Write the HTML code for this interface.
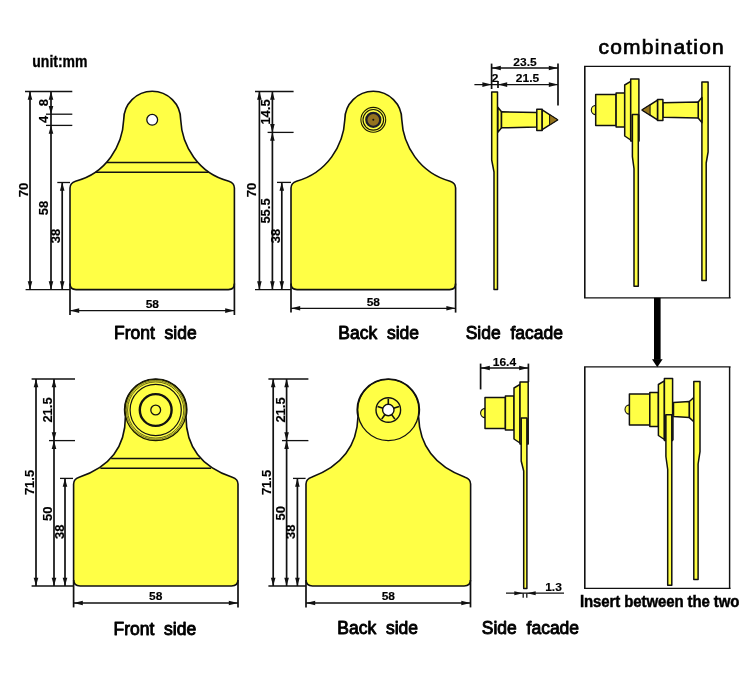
<!DOCTYPE html>
<html><head><meta charset="utf-8"><title>Ear tag dimensions</title>
<style>
html,body{margin:0;padding:0;background:#fff;}
body{width:750px;height:700px;overflow:hidden;font-family:"Liberation Sans",sans-serif;}
svg{display:block;will-change:transform;}
text{font-family:"Liberation Sans",sans-serif;fill:#000;white-space:pre;}
.d{font-weight:bold;stroke:#000;stroke-width:0.15px;}
.l{font-weight:normal;stroke:#000;stroke-width:0.9px;stroke-linejoin:round;}
.b{font-weight:bold;stroke:#000;stroke-width:0.3px;}
.b2{font-weight:bold;letter-spacing:-0.1px;stroke:#000;stroke-width:0.45px;}
.c{font-weight:normal;stroke:#000;stroke-width:0.7px;letter-spacing:1.2px;}
</style></head><body>
<svg width="750" height="700" viewBox="0 0 750 700">
<rect width="750" height="700" fill="#fff"/>
<path d="M76,289.6 Q70,289.6 70,283.6 L70,188.0 Q70,183.0 75.5,181.2 C106.2,173.4 122.6,145.6 123.69999999999999,119.8 A28.5,28.5 0 1 1 180.7,119.8 C181.8,145.6 198.2,173.4 228.9,181.2 Q234.4,183.0 234.4,188.0 L234.4,283.6 Q234.4,289.6 228.4,289.6 Z" fill="#ffff45" stroke="#111" stroke-width="1.6"/>
<circle cx="152.2" cy="119.8" r="5.4" fill="#fff" stroke="#111" stroke-width="1.3"/>
<line x1="106.8" y1="162.45" x2="197.6" y2="162.45" stroke="#111" stroke-width="1.4"/>
<line x1="95.8" y1="172.3" x2="208.6" y2="172.3" stroke="#111" stroke-width="1.4"/>
<line x1="25" y1="91.5" x2="72.3" y2="91.5" stroke="#111" stroke-width="1.3"/>
<line x1="46" y1="114.2" x2="72.3" y2="114.2" stroke="#111" stroke-width="1.3"/>
<line x1="46" y1="125.4" x2="72.3" y2="125.4" stroke="#111" stroke-width="1.3"/>
<line x1="57.3" y1="182.5" x2="70" y2="182.5" stroke="#111" stroke-width="1.3"/>
<line x1="25.6" y1="289.6" x2="70" y2="289.6" stroke="#111" stroke-width="1.3"/>
<line x1="30" y1="91.5" x2="30" y2="289.6" stroke="#111" stroke-width="1.7"/>
<polygon points="30.0,91.5 27.7,99.8 32.3,99.8" fill="#111"/>
<polygon points="30.0,289.6 27.7,281.3 32.3,281.3" fill="#111"/>
<line x1="51" y1="91.5" x2="51" y2="289.6" stroke="#111" stroke-width="1.7"/>
<polygon points="51.0,91.5 48.7,99.8 53.3,99.8" fill="#111"/>
<polygon points="51.0,114.2 48.7,105.9 53.3,105.9" fill="#111"/>
<polygon points="51.0,125.4 48.7,133.7 53.3,133.7" fill="#111"/>
<polygon points="51.0,289.6 48.7,281.3 53.3,281.3" fill="#111"/>
<line x1="62.2" y1="182.5" x2="62.2" y2="289.6" stroke="#111" stroke-width="1.7"/>
<polygon points="62.2,182.5 59.9,190.8 64.5,190.8" fill="#111"/>
<polygon points="62.2,289.6 59.9,281.3 64.5,281.3" fill="#111"/>
<text transform="translate(24,190) rotate(-90) scale(1.08,1)" text-anchor="middle" dominant-baseline="central" class="d" font-size="12">70</text>
<text transform="translate(44.4,208) rotate(-90) scale(1.08,1)" text-anchor="middle" dominant-baseline="central" class="d" font-size="12">58</text>
<text transform="translate(56.4,236) rotate(-90) scale(1.08,1)" text-anchor="middle" dominant-baseline="central" class="d" font-size="12">38</text>
<text transform="translate(44.4,102.6) rotate(-90) scale(1.08,1)" text-anchor="middle" dominant-baseline="central" class="d" font-size="12">8</text>
<text transform="translate(44.4,119.5) rotate(-90) scale(1.08,1)" text-anchor="middle" dominant-baseline="central" class="d" font-size="12">4</text>
<line x1="70" y1="283.6" x2="70" y2="315" stroke="#111" stroke-width="1.7"/>
<line x1="234.4" y1="283.6" x2="234.4" y2="315" stroke="#111" stroke-width="1.7"/>
<line x1="70" y1="310.6" x2="234.4" y2="310.6" stroke="#111" stroke-width="1.3"/>
<polygon points="70.0,310.6 79.2,308.3 79.2,312.9" fill="#111"/>
<polygon points="234.4,310.6 225.2,308.3 225.2,312.9" fill="#111"/>
<text transform="translate(152.3,307.7) scale(1.09,1)" text-anchor="middle" class="d" font-size="11">58</text>
<path d="M297,289.6 Q291,289.6 291,283.6 L291,188.0 Q291,183.0 296.5,181.2 C327.2,172.8 343.6,145.2 344.8,119.8 A28.5,28.5 0 1 1 401.8,119.8 C403.0,145.2 419.4,172.8 450.1,181.2 Q455.6,183.0 455.6,188.0 L455.6,283.6 Q455.6,289.6 449.6,289.6 Z" fill="#ffff45" stroke="#111" stroke-width="1.6"/>
<circle cx="373.3" cy="119.8" r="12.4" fill="none" stroke="#1a1800" stroke-width="1.1"/>
<circle cx="373.3" cy="119.8" r="10.3" fill="none" stroke="#1a1800" stroke-width="1.1"/>
<circle cx="373.3" cy="119.8" r="7" fill="#94721f" stroke="#1c1c2a" stroke-width="2.3"/>
<circle cx="373.3" cy="119.8" r="1" fill="#111"/>
<line x1="255" y1="91.5" x2="293.6" y2="91.5" stroke="#111" stroke-width="1.3"/>
<line x1="267.6" y1="132.4" x2="293.6" y2="132.4" stroke="#111" stroke-width="1.3"/>
<line x1="277" y1="182.4" x2="291" y2="182.4" stroke="#111" stroke-width="1.3"/>
<line x1="255" y1="289.6" x2="291" y2="289.6" stroke="#111" stroke-width="1.3"/>
<line x1="259.4" y1="91.5" x2="259.4" y2="289.6" stroke="#111" stroke-width="1.7"/>
<polygon points="259.4,91.5 257.1,99.8 261.7,99.8" fill="#111"/>
<polygon points="259.4,289.6 257.1,281.3 261.7,281.3" fill="#111"/>
<line x1="272.4" y1="91.5" x2="272.4" y2="289.6" stroke="#111" stroke-width="1.7"/>
<polygon points="272.4,91.5 270.1,99.8 274.7,99.8" fill="#111"/>
<polygon points="272.4,132.4 270.1,124.1 274.7,124.1" fill="#111"/>
<polygon points="272.4,132.4 270.1,140.7 274.7,140.7" fill="#111"/>
<polygon points="272.4,289.6 270.1,281.3 274.7,281.3" fill="#111"/>
<line x1="281.8" y1="182.4" x2="281.8" y2="289.6" stroke="#111" stroke-width="1.7"/>
<polygon points="281.8,182.4 279.5,190.7 284.1,190.7" fill="#111"/>
<polygon points="281.8,289.6 279.5,281.3 284.1,281.3" fill="#111"/>
<text transform="translate(252.6,190) rotate(-90) scale(1.08,1)" text-anchor="middle" dominant-baseline="central" class="d" font-size="12">70</text>
<text transform="translate(266,112) rotate(-90) scale(1.08,1)" text-anchor="middle" dominant-baseline="central" class="d" font-size="12">14.5</text>
<text transform="translate(266,211) rotate(-90) scale(1.08,1)" text-anchor="middle" dominant-baseline="central" class="d" font-size="12">55.5</text>
<text transform="translate(276,236) rotate(-90) scale(1.08,1)" text-anchor="middle" dominant-baseline="central" class="d" font-size="12">38</text>
<line x1="291" y1="283.6" x2="291" y2="312.6" stroke="#111" stroke-width="1.7"/>
<line x1="455.6" y1="283.6" x2="455.6" y2="312.6" stroke="#111" stroke-width="1.7"/>
<line x1="291" y1="308.3" x2="455.6" y2="308.3" stroke="#111" stroke-width="1.3"/>
<polygon points="291.0,308.3 300.2,306.0 300.2,310.6" fill="#111"/>
<polygon points="455.6,308.3 446.4,306.0 446.4,310.6" fill="#111"/>
<text transform="translate(373.3,305.7) scale(1.09,1)" text-anchor="middle" class="d" font-size="11">58</text>
<path d="M80.1,586 Q73.6,586 73.6,579.5 L73.6,484.0 Q73.6,479.0 79.1,477.2 C103.89999999999999,469.1 125.5,452.7 125.39999999999999,416.5 A31,31 0 1 1 186.0,416.5 C185.9,452.7 207.5,469.1 232.3,477.2 Q238,479.0 238,484.0 L238,579.5 Q238,586 231.5,586 Z" fill="#ffff45" stroke="#111" stroke-width="1.6"/>
<circle cx="155.7" cy="410" r="30.7" fill="#ffff45" stroke="#1a1a00" stroke-width="1.3"/>
<circle cx="155.7" cy="410" r="29.4" fill="none" stroke="#222000" stroke-width="0.6"/>
<circle cx="155.7" cy="410" r="28.1" fill="none" stroke="#222000" stroke-width="0.7"/>
<circle cx="155.7" cy="410" r="25.6" fill="none" stroke="#111" stroke-width="1.2"/>
<circle cx="155.7" cy="410" r="15.9" fill="none" stroke="#111" stroke-width="2.4"/>
<circle cx="155.7" cy="410" r="4.9" fill="none" stroke="#111" stroke-width="1.3"/>
<line x1="111.2" y1="458.45" x2="200.2" y2="458.45" stroke="#111" stroke-width="1.4"/>
<line x1="100.4" y1="468.3" x2="211" y2="468.3" stroke="#111" stroke-width="1.4"/>
<line x1="31.6" y1="379" x2="75" y2="379" stroke="#111" stroke-width="1.3"/>
<line x1="49" y1="440.6" x2="75" y2="440.6" stroke="#111" stroke-width="1.3"/>
<line x1="60" y1="478.4" x2="73" y2="478.4" stroke="#111" stroke-width="1.3"/>
<line x1="31.6" y1="586" x2="73.6" y2="586" stroke="#111" stroke-width="1.3"/>
<line x1="36" y1="379" x2="36" y2="586" stroke="#111" stroke-width="1.7"/>
<polygon points="36.0,379.0 33.7,387.3 38.3,387.3" fill="#111"/>
<polygon points="36.0,586.0 33.7,577.7 38.3,577.7" fill="#111"/>
<line x1="54" y1="379" x2="54" y2="586" stroke="#111" stroke-width="1.7"/>
<polygon points="54.0,379.0 51.7,387.3 56.3,387.3" fill="#111"/>
<polygon points="54.0,440.6 51.7,432.3 56.3,432.3" fill="#111"/>
<polygon points="54.0,440.6 51.7,448.9 56.3,448.9" fill="#111"/>
<polygon points="54.0,586.0 51.7,577.7 56.3,577.7" fill="#111"/>
<line x1="65" y1="478.4" x2="65" y2="586" stroke="#111" stroke-width="1.7"/>
<polygon points="65.0,478.4 62.7,486.7 67.3,486.7" fill="#111"/>
<polygon points="65.0,586.0 62.7,577.7 67.3,577.7" fill="#111"/>
<text transform="translate(30.4,482.5) rotate(-90) scale(1.08,1)" text-anchor="middle" dominant-baseline="central" class="d" font-size="12">71.5</text>
<text transform="translate(47.7,410) rotate(-90) scale(1.08,1)" text-anchor="middle" dominant-baseline="central" class="d" font-size="12">21.5</text>
<text transform="translate(47.7,513.7) rotate(-90) scale(1.08,1)" text-anchor="middle" dominant-baseline="central" class="d" font-size="12">50</text>
<text transform="translate(59.7,531.7) rotate(-90) scale(1.08,1)" text-anchor="middle" dominant-baseline="central" class="d" font-size="12">38</text>
<line x1="73.6" y1="580" x2="73.6" y2="607.4" stroke="#111" stroke-width="1.7"/>
<line x1="238" y1="580" x2="238" y2="607.4" stroke="#111" stroke-width="1.7"/>
<line x1="73.6" y1="603" x2="238" y2="603" stroke="#111" stroke-width="1.3"/>
<polygon points="73.6,603.0 82.8,600.7 82.8,605.3" fill="#111"/>
<polygon points="238.0,603.0 228.8,600.7 228.8,605.3" fill="#111"/>
<text transform="translate(155.7,600) scale(1.09,1)" text-anchor="middle" class="d" font-size="11">58</text>
<path d="M312.5,586 Q306,586 306,579.5 L306,484.0 Q306,479.0 311.5,477.2 C338,467.4 357.1,448.8 358.0,416.5 A31,31 0 1 1 418.6,416.5 C419.5,448.8 438.6,467.4 465.1,477.2 Q470.6,479.0 470.6,484.0 L470.6,579.5 Q470.6,586 464.1,586 Z" fill="#ffff45" stroke="#111" stroke-width="1.6"/>
<circle cx="388.3" cy="410" r="30.6" fill="none" stroke="#111" stroke-width="1.3"/>
<circle cx="388.3" cy="410" r="12.3" fill="none" stroke="#111" stroke-width="1.4"/>
<line x1="388.3" y1="404.4" x2="388.3" y2="398.7" stroke="#111" stroke-width="1.6"/>
<line x1="393.6" y1="408.3" x2="399.0" y2="406.5" stroke="#111" stroke-width="1.6"/>
<line x1="391.6" y1="414.5" x2="394.9" y2="419.1" stroke="#111" stroke-width="1.6"/>
<line x1="385.0" y1="414.5" x2="381.7" y2="419.1" stroke="#111" stroke-width="1.6"/>
<line x1="383.0" y1="408.3" x2="377.6" y2="406.5" stroke="#111" stroke-width="1.6"/>
<circle cx="388.3" cy="410" r="5.7" fill="#fff" stroke="#111" stroke-width="1.4"/>
<line x1="268.4" y1="379" x2="308.4" y2="379" stroke="#111" stroke-width="1.3"/>
<line x1="282" y1="440.6" x2="308.4" y2="440.6" stroke="#111" stroke-width="1.3"/>
<line x1="293" y1="478.4" x2="305.6" y2="478.4" stroke="#111" stroke-width="1.3"/>
<line x1="268.4" y1="586" x2="306" y2="586" stroke="#111" stroke-width="1.3"/>
<line x1="273.2" y1="379" x2="273.2" y2="586" stroke="#111" stroke-width="1.7"/>
<polygon points="273.2,379.0 270.9,387.3 275.5,387.3" fill="#111"/>
<polygon points="273.2,586.0 270.9,577.7 275.5,577.7" fill="#111"/>
<line x1="286.6" y1="379" x2="286.6" y2="586" stroke="#111" stroke-width="1.7"/>
<polygon points="286.6,379.0 284.3,387.3 288.9,387.3" fill="#111"/>
<polygon points="286.6,440.6 284.3,432.3 288.9,432.3" fill="#111"/>
<polygon points="286.6,440.6 284.3,448.9 288.9,448.9" fill="#111"/>
<polygon points="286.6,586.0 284.3,577.7 288.9,577.7" fill="#111"/>
<line x1="297.4" y1="478.4" x2="297.4" y2="586" stroke="#111" stroke-width="1.7"/>
<polygon points="297.4,478.4 295.1,486.7 299.7,486.7" fill="#111"/>
<polygon points="297.4,586.0 295.1,577.7 299.7,577.7" fill="#111"/>
<text transform="translate(267,482.5) rotate(-90) scale(1.08,1)" text-anchor="middle" dominant-baseline="central" class="d" font-size="12">71.5</text>
<text transform="translate(280.8,410) rotate(-90) scale(1.08,1)" text-anchor="middle" dominant-baseline="central" class="d" font-size="12">21.5</text>
<text transform="translate(280.8,513.3) rotate(-90) scale(1.08,1)" text-anchor="middle" dominant-baseline="central" class="d" font-size="12">50</text>
<text transform="translate(291.4,531.7) rotate(-90) scale(1.08,1)" text-anchor="middle" dominant-baseline="central" class="d" font-size="12">38</text>
<line x1="306" y1="580" x2="306" y2="607.4" stroke="#111" stroke-width="1.7"/>
<line x1="470.5" y1="580" x2="470.5" y2="607.4" stroke="#111" stroke-width="1.7"/>
<line x1="306" y1="603" x2="470.5" y2="603" stroke="#111" stroke-width="1.3"/>
<polygon points="306.0,603.0 315.2,600.7 315.2,605.3" fill="#111"/>
<polygon points="470.5,603.0 461.3,600.7 461.3,605.3" fill="#111"/>
<text transform="translate(388.3,600) scale(1.09,1)" text-anchor="middle" class="d" font-size="11">58</text>
<polygon points="497.8,107.2 501.5,111.8 501.5,127.8 497.8,132.4" fill="#ffff45" stroke="#111" stroke-width="1.5" stroke-linejoin="round"/>
<polygon points="501.5,111.8 536.8,112.5 536.8,127.1 501.5,127.8" fill="#ffff45" stroke="#111" stroke-width="1.5" stroke-linejoin="round"/>
<polygon points="536.8,109.2 542.2,109.2 542.2,130.4 536.8,130.4" fill="#ffff45" stroke="#111" stroke-width="1.5" stroke-linejoin="round"/>
<polygon points="542.2,109.89999999999999 557.6,119.8 542.2,129.7" fill="#ffff45" stroke="#111" stroke-width="1.5" stroke-linejoin="round"/>
<polygon points="549.6,114.7 557.6,119.8 549.6,124.89999999999999" fill="#96741a" stroke="#111" stroke-width="1.0" stroke-linejoin="round"/>
<polygon points="491.7,91.9 497.5,91.9 497.5,289.6 494,289.6 494,172 491.7,160" fill="#ffff45" stroke="#111" stroke-width="1.5" stroke-linejoin="round"/>
<line x1="491.6" y1="63.6" x2="491.6" y2="89" stroke="#111" stroke-width="1.7"/>
<line x1="558" y1="63.6" x2="558" y2="105.6" stroke="#111" stroke-width="1.7"/>
<line x1="491.6" y1="68" x2="558" y2="68" stroke="#111" stroke-width="1.3"/>
<polygon points="491.6,68.0 500.8,65.7 500.8,70.3" fill="#111"/>
<polygon points="558.0,68.0 548.8,65.7 548.8,70.3" fill="#111"/>
<line x1="498" y1="81" x2="498" y2="88" stroke="#111" stroke-width="1.7"/>
<line x1="474.4" y1="84.6" x2="558" y2="84.6" stroke="#111" stroke-width="1.3"/>
<polygon points="491.6,84.6 482.4,82.3 482.4,86.9" fill="#111"/>
<polygon points="498.0,84.6 507.2,82.3 507.2,86.9" fill="#111"/>
<polygon points="558.0,84.6 548.8,82.3 548.8,86.9" fill="#111"/>
<text transform="translate(525,65.6) scale(1.09,1)" text-anchor="middle" class="d" font-size="11">23.5</text>
<text transform="translate(527.5,81.8) scale(1.09,1)" text-anchor="middle" class="d" font-size="11">21.5</text>
<text transform="translate(495,81.8) scale(1.09,1)" text-anchor="middle" class="d" font-size="11">2</text>
<path d="M485.20000000000005,408.4 A4.6,4.6 0 0 0 485.20000000000005,417.6 Z" fill="#ffff45" stroke="#111" stroke-width="1.1"/>
<polygon points="485.0,397.5 505.40000000000003,397.5 505.40000000000003,428.5 485.0,428.5" fill="#ffff45" stroke="#111" stroke-width="1.5" stroke-linejoin="round"/>
<polygon points="505.40000000000003,396 514.0,396 514.0,430 505.40000000000003,430" fill="#ffff45" stroke="#111" stroke-width="1.5" stroke-linejoin="round"/>
<polygon points="514.0,388 520.0,384.4 520.0,443 514.0,439" fill="#ffff45" stroke="#111" stroke-width="1.5" stroke-linejoin="round"/>
<polygon points="520.0,382 528.2,382 528.2,444 520.0,444" fill="#ffff45" stroke="#111" stroke-width="1.5" stroke-linejoin="round"/>
<rect x="521" y="418.4" width="7" height="25.6" fill="#222"/>
<polygon points="521.2,418 526.9,418 526.9,588.6 523.7,588.6 523.7,471 521.2,461" fill="#ffff45" stroke="#111" stroke-width="1.5" stroke-linejoin="round"/>
<line x1="480.6" y1="363.6" x2="480.6" y2="389.4" stroke="#111" stroke-width="1.7"/>
<line x1="528.4" y1="363.6" x2="528.4" y2="382" stroke="#111" stroke-width="1.7"/>
<line x1="480.6" y1="368" x2="528.4" y2="368" stroke="#111" stroke-width="1.3"/>
<polygon points="480.6,368.0 489.8,365.7 489.8,370.3" fill="#111"/>
<polygon points="528.4,368.0 519.2,365.7 519.2,370.3" fill="#111"/>
<text transform="translate(504.4,365.6) scale(1.09,1)" text-anchor="middle" class="d" font-size="11">16.4</text>
<line x1="506" y1="593.2" x2="564" y2="593.2" stroke="#111" stroke-width="1.3"/>
<line x1="523.2" y1="593.2" x2="523.2" y2="597.7" stroke="#111" stroke-width="1.3"/>
<line x1="526.8" y1="593.2" x2="526.8" y2="597.7" stroke="#111" stroke-width="1.3"/>
<polygon points="523.0,593.2 514.3,591.2 514.3,595.2" fill="#111"/>
<polygon points="527.0,593.2 535.7,591.2 535.7,595.2" fill="#111"/>
<text transform="translate(553.5,591) scale(1.09,1)" text-anchor="middle" class="d" font-size="11">1.3</text>
<line x1="584.0" y1="66.45" x2="730.5999999999999" y2="66.45" stroke="#111" stroke-width="1.25"/>
<line x1="584.0" y1="297.95" x2="730.5999999999999" y2="297.95" stroke="#111" stroke-width="1.25"/>
<line x1="584.8" y1="66.45" x2="584.8" y2="297.95" stroke="#111" stroke-width="1.6"/>
<line x1="729.5999999999999" y1="66.45" x2="729.5999999999999" y2="297.95" stroke="#111" stroke-width="1.45"/>
<line x1="584.0" y1="366.95" x2="730.5999999999999" y2="366.95" stroke="#111" stroke-width="1.25"/>
<line x1="584.0" y1="588.25" x2="730.5999999999999" y2="588.25" stroke="#111" stroke-width="1.25"/>
<line x1="584.8" y1="366.95" x2="584.8" y2="588.25" stroke="#111" stroke-width="1.6"/>
<line x1="729.5999999999999" y1="366.95" x2="729.5999999999999" y2="588.25" stroke="#111" stroke-width="1.45"/>
<rect x="654" y="297.8" width="6.6" height="62" fill="#000"/>
<polygon points="652,359.3 662.6,359.3 657.3,367.2" fill="#000"/>
<path d="M595.9,105.4 A4.6,4.6 0 0 0 595.9,114.6 Z" fill="#ffff45" stroke="#111" stroke-width="1.1"/>
<polygon points="595.6999999999999,94.5 616.0999999999999,94.5 616.0999999999999,125.5 595.6999999999999,125.5" fill="#ffff45" stroke="#111" stroke-width="1.5" stroke-linejoin="round"/>
<polygon points="616.0999999999999,93 624.6999999999999,93 624.6999999999999,127 616.0999999999999,127" fill="#ffff45" stroke="#111" stroke-width="1.5" stroke-linejoin="round"/>
<polygon points="624.6999999999999,85 630.6999999999999,81.4 630.6999999999999,140 624.6999999999999,136" fill="#ffff45" stroke="#111" stroke-width="1.5" stroke-linejoin="round"/>
<polygon points="630.6999999999999,79 638.9,79 638.9,141 630.6999999999999,141" fill="#ffff45" stroke="#111" stroke-width="1.5" stroke-linejoin="round"/>
<rect x="631.6" y="114.4" width="8" height="27" fill="#222"/>
<polygon points="632.4,114.4 638.3,114.4 638.3,286.2 634,286.2 634,168.7 632.4,156.6" fill="#ffff45" stroke="#111" stroke-width="1.5" stroke-linejoin="round"/>
<polygon points="701.9,82 708.1,82 708.1,152 706.2,163 706.2,280.4 701.9,280.4" fill="#ffff45" stroke="#111" stroke-width="1.5" stroke-linejoin="round"/>
<polygon points="701.9,97.4 698.1999999999999,102 698.1999999999999,118 701.9,122.6" fill="#ffff45" stroke="#111" stroke-width="1.5" stroke-linejoin="round"/>
<polygon points="698.1999999999999,102 662.9,102.7 662.9,117.3 698.1999999999999,118" fill="#ffff45" stroke="#111" stroke-width="1.5" stroke-linejoin="round"/>
<polygon points="662.9,99.4 657.5,99.4 657.5,120.6 662.9,120.6" fill="#ffff45" stroke="#111" stroke-width="1.5" stroke-linejoin="round"/>
<polygon points="657.5,100.1 642.1,110 657.5,119.9" fill="#ffff45" stroke="#111" stroke-width="1.5" stroke-linejoin="round"/>
<polygon points="650.1,104.9 642.1,110 650.1,115.1" fill="#96741a" stroke="#111" stroke-width="1.0" stroke-linejoin="round"/>
<polygon points="673.5,402.4 689.4,401.5 689.4,417.6 673.5,416.6" fill="#ffff45" stroke="#111" stroke-width="1.5" stroke-linejoin="round"/>
<polygon points="689.4,401.5 693.8,397.5 693.8,421.8 689.4,417.6" fill="#ffff45" stroke="#111" stroke-width="1.5" stroke-linejoin="round"/>
<polygon points="693.8,381.4 700,381.4 700,451.7 698.1,464 698.1,579.4 693.8,579.4" fill="#ffff45" stroke="#111" stroke-width="1.5" stroke-linejoin="round"/>
<path d="M629.6,404.9 A4.6,4.6 0 0 0 629.6,414.1 Z" fill="#ffff45" stroke="#111" stroke-width="1.1"/>
<polygon points="629.4,394.0 649.8,394.0 649.8,425.0 629.4,425.0" fill="#ffff45" stroke="#111" stroke-width="1.5" stroke-linejoin="round"/>
<polygon points="649.8,392.5 658.4,392.5 658.4,426.5 649.8,426.5" fill="#ffff45" stroke="#111" stroke-width="1.5" stroke-linejoin="round"/>
<polygon points="658.4,384.5 664.4,380.9 664.4,439.5 658.4,435.5" fill="#ffff45" stroke="#111" stroke-width="1.5" stroke-linejoin="round"/>
<polygon points="664.4,378.5 672.6,378.5 672.6,440.5 664.4,440.5" fill="#ffff45" stroke="#111" stroke-width="1.5" stroke-linejoin="round"/>
<rect x="665" y="414.7" width="8.6" height="25.3" fill="#222"/>
<polygon points="665.9,414.7 671.8,414.7 671.8,585.3 667.7,585.3 667.7,469.5 665.9,456.5" fill="#ffff45" stroke="#111" stroke-width="1.5" stroke-linejoin="round"/>
<text x="114" y="339.4" class="l" font-size="17.5" xml:space="preserve">Front  side</text>
<text x="338.3" y="339" class="l" font-size="17.5" xml:space="preserve">Back  side</text>
<text x="465.7" y="339" class="l" font-size="17.5" xml:space="preserve">Side  facade</text>
<text x="113.5" y="635.3" class="l" font-size="17.5" xml:space="preserve">Front  side</text>
<text x="337.3" y="634" class="l" font-size="17.5" xml:space="preserve">Back  side</text>
<text x="481.8" y="633.5" class="l" font-size="17.5" xml:space="preserve">Side  facade</text>
<text transform="translate(32.3,66.5) scale(1,1.15)" class="b" font-size="14">unit:mm</text>
<text transform="translate(580,607.4) scale(1,1.12)" class="b2" font-size="15">Insert between the two</text>
<text x="598.5" y="53.8" class="c" font-size="21" xml:space="preserve">combination</text>
</svg>
</body></html>
